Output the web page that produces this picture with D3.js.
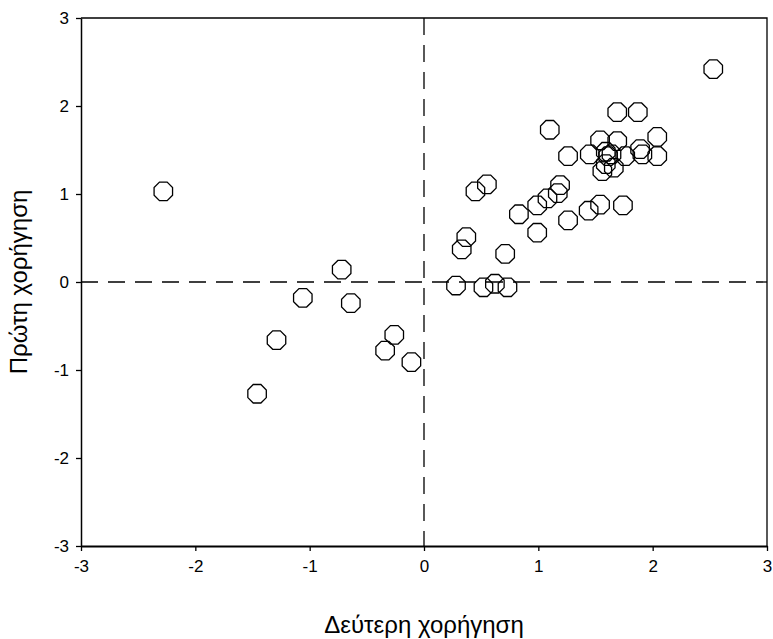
<!DOCTYPE html>
<html>
	<head>
		<meta charset="utf-8">
		<script type="text/javascript" src="https://cdn.jsdelivr.net/npm/d3@7"></script>
		<style>
			body { margin: 0; background: #fff; }
			text { font-family: Arial, "Liberation Sans", sans-serif; fill: #000; }
		</style>
	</head>
	<body>
		<div id="chart"></div>
		<script type="text/javascript">

			////////////////////////////////////////////////////////////
			//////////////////////// Data ////////////////////////////
			// second administration (x) vs first administration (y)
			var secondDose = [2.53, -2.28, 1.69, 1.87, 1.10, 2.04, 1.54, 1.69, 1.26, 1.45,
				1.59, 1.61, 1.64, 1.76, 1.89, 1.91, 2.04, 1.56, 1.66, 1.59,
				0.55, 0.45, 1.19, 1.17, 1.08, 0.99, 0.83, 1.54, 1.44, 1.74,
				1.26, 0.99, 0.37, 0.33, 0.71, 0.28, 0.52, 0.62, 0.73,
				-0.72, -1.06, -0.64, -1.29, -0.26, -0.34, -0.11, -1.46];
			var firstDose = [2.42, 1.03, 1.93, 1.93, 1.73, 1.65, 1.61, 1.60, 1.43, 1.45,
				1.48, 1.43, 1.45, 1.43, 1.51, 1.45, 1.43, 1.26, 1.30, 1.34,
				1.11, 1.03, 1.10, 1.01, 0.95, 0.87, 0.77, 0.88, 0.81, 0.87,
				0.70, 0.56, 0.51, 0.37, 0.32, -0.04, -0.06, -0.02, -0.06,
				0.14, -0.18, -0.24, -0.66, -0.60, -0.78, -0.91, -1.27];
			var tickValues = [-3, -2, -1, 0, 1, 2, 3];
			var tickLabels = ["-3", "-2", "-1", "0", "1", "2", "3"];
			var xLabel = "Δεύτερη χορήγηση",
				yLabel = "Πρώτη χορήγηση";

			////////////////////////////////////////////////////////////
			//////////////////// Set up the svg //////////////////////
			var margin = { top: 18, right: 6, bottom: 93, left: 81 };
			var totalW = 773, totalH = 639;
			var width = totalW - margin.left - margin.right,
				height = totalH - margin.top - margin.bottom;

			var svg = d3.select("#chart")
				.append("svg")
				.attr("width", totalW)
				.attr("height", totalH)
				.append("g")
				.attr("transform", "translate(" + margin.left + "," + margin.top + ")");

			var x = d3.scaleLinear().domain([-3, 3]).range([0, width]);
			var y = d3.scaleLinear().domain([-3, 3]).range([height, 0]);
			var fmt = function(d) { return tickLabels[tickValues.indexOf(d)]; };

			//reference lines through zero
			svg.append("line")
				.attr("x1", x(0)).attr("x2", x(0))
				.attr("y1", 0).attr("y2", height)
				.style("stroke", "#000").style("stroke-width", 1.3)
				.style("stroke-dasharray", "17,10");
			svg.append("line")
				.attr("x1", 0).attr("x2", width)
				.attr("y1", y(0)).attr("y2", y(0))
				.style("stroke", "#000").style("stroke-width", 1.3)
				.style("stroke-dasharray", "17,10");

			//top and right border
			svg.append("path")
				.attr("d", "M0,0H" + width + "V" + height)
				.style("fill", "none").style("stroke", "#000").style("stroke-width", 1.3);

			////////////////////////////////////////////////////////////
			/////////////////////// Axes /////////////////////////////
			var xAxis = svg.append("g")
				.attr("transform", "translate(0," + height + ")")
				.call(d3.axisBottom(x).tickValues(tickValues).tickFormat(fmt).tickSize(5).tickSizeOuter(0).tickPadding(9));
			xAxis.select(".domain").style("stroke-width", 2);
			xAxis.selectAll("text").style("font-size", "17px");

			var yAxis = svg.append("g")
				.call(d3.axisLeft(y).tickValues(tickValues).tickFormat(fmt).tickSize(5).tickSizeOuter(0).tickPadding(7));
			yAxis.select(".domain").style("stroke-width", 1.5);
			yAxis.selectAll("text").style("font-size", "17px");
			svg.selectAll(".tick line").style("stroke-width", 1.3);

			svg.append("text")
				.attr("x", width / 2)
				.attr("y", height + 87)
				.attr("text-anchor", "middle")
				.style("font-size", "24px")
				.text(xLabel);

			svg.append("text")
				.attr("transform", "translate(" + (-54) + "," + (height / 2) + ") rotate(-90)")
				.attr("text-anchor", "middle")
				.style("font-size", "24px")
				.text(yLabel);

			////////////////////////////////////////////////////////////
			////////////////////// Markers ///////////////////////////
			//octagon with flat top/bottom
			var R = 10;
			var octagon = d3.range(8).map(function(i) {
				var a = Math.PI / 8 + i * Math.PI / 4;
				return [R * Math.cos(a), R * Math.sin(a)].join(",");
			});
			var octagonPath = "M" + octagon.join("L") + "Z";

			svg.selectAll(".pt")
				.data(d3.range(secondDose.length))
				.enter().append("path")
				.attr("class", "pt")
				.attr("transform", function(i) { return "translate(" + x(secondDose[i]) + "," + y(firstDose[i]) + ")"; })
				.attr("d", octagonPath)
				.style("fill", "none")
				.style("stroke", "#000")
				.style("stroke-width", 1.3);
		</script>
	</body>
</html>
